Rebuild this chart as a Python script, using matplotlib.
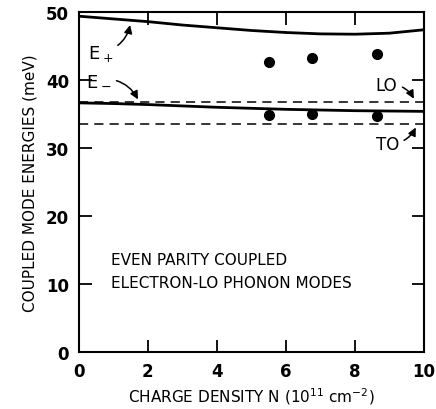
""" Even parity coupled electron-LO phonon modes vs charge density.
"""
import matplotlib
matplotlib.use("Agg")
import matplotlib.pyplot as plt

plt.rcParams["font.family"] = ["DejaVu Sans"]
plt.rcParams["mathtext.default"] = "regular"

# upper branch E+ (theory)
n_theory = [0, 1, 2, 3, 4, 5, 6, 7, 8, 9, 10]
e_plus = [49.4, 49.0, 48.6, 48.1, 47.7, 47.3, 47.0, 46.8, 46.75, 46.9, 47.4]
# lower branch E- (theory)
e_minus = [36.65, 36.55, 36.4, 36.2, 36.0, 35.85, 35.7, 35.6, 35.5, 35.45, 35.4]

# measured points
n_data = [5.5, 6.75, 8.65]
e_plus_data = [42.6, 43.3, 43.9]
e_minus_data = [34.85, 34.95, 34.75]

lo_energy = 36.8
to_energy = 33.6

fig = plt.figure(figsize=(4.36, 4.10), dpi=100)
ax = fig.add_axes([0.181, 0.139, 0.791, 0.829])

ax.plot(n_theory, e_plus, "k-", lw=2.0)
ax.plot(n_theory, e_minus, "k-", lw=2.0)
ax.plot(n_data, e_plus_data, "ko", ms=7)
ax.plot(n_data, e_minus_data, "ko", ms=7)
ax.axhline(lo_energy, color="k", ls=(0, (6, 4)), lw=1.1)
ax.axhline(to_energy, color="k", ls=(0, (6, 4)), lw=1.1)

ax.set_xlim(0, 10)
ax.set_ylim(0, 50)
ax.set_xticks([0, 2, 4, 6, 8, 10])
ax.set_yticks([0, 10, 20, 30, 40, 50])
ax.tick_params(direction="in", length=9, width=1.3, top=True, right=True,
               labelsize=12, pad=7)
for lab in ax.get_xticklabels() + ax.get_yticklabels():
    lab.set_fontweight("bold")
for s in ax.spines.values():
    s.set_linewidth(1.5)

ax.set_xlabel("CHARGE DENSITY N (10$^{11}$ cm$^{-2}$)", fontsize=11,
              fontweight="medium", labelpad=4)
ax.set_ylabel("COUPLED MODE ENERGIES (meV)", fontsize=11,
              fontweight="medium", labelpad=6)

arrow = dict(arrowstyle="-|>", color="k", lw=1.1, mutation_scale=12)
ax.annotate("E$_+$", xy=(1.5, 48.5), xytext=(0.25, 43.3), fontsize=13,
            arrowprops=dict(arrow, connectionstyle="arc3,rad=0.35"))
ax.annotate("E$_-$", xy=(1.75, 36.8), xytext=(0.2, 39.4), fontsize=13,
            arrowprops=dict(arrow, connectionstyle="arc3,rad=-0.35"))
ax.annotate("LO", xy=(9.75, 36.9), xytext=(8.6, 38.6), fontsize=12,
            arrowprops=dict(arrow, connectionstyle="arc3,rad=-0.35"))
ax.annotate("TO", xy=(9.8, 33.4), xytext=(8.6, 29.9), fontsize=12,
            arrowprops=dict(arrow, connectionstyle="arc3,rad=0.35"))

ax.text(0.93, 13.6, "EVEN PARITY COUPLED", fontsize=11, va="center")
ax.text(0.93, 10.2, "ELECTRON-LO PHONON MODES", fontsize=11, va="center")

fig.savefig("out.png", dpi=100)
